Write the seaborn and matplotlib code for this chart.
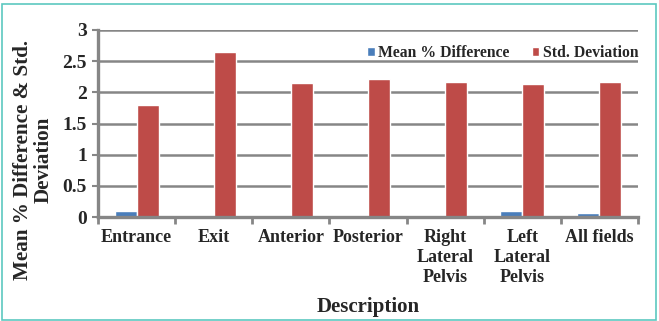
import matplotlib
matplotlib.use("Agg")
import matplotlib.pyplot as plt
import seaborn as sns
import pandas as pd
from matplotlib.patches import Rectangle

categories = ["Entrance", "Exit", "Anterior", "Posterior", "Right\nLateral\nPelvis", "Left\nLateral\nPelvis", "All fields"]
mean_diff = [0.10, 0.02, 0.02, 0.02, 0.005, 0.09, 0.07]
std_dev = [1.80, 2.64, 2.15, 2.21, 2.16, 2.14, 2.17]
series = ["Mean % Difference", "Std. Deviation"]
colors = ["#4a7ebb", "#be4b48"]

df = pd.DataFrame({
    "Description": categories * 2,
    "value": mean_diff + std_dev,
    "series": [series[0]] * len(categories) + [series[1]] * len(categories),
})

sns.set_style("white")
plt.rcParams["font.family"] = ["Liberation Serif", "DejaVu Serif"]
plt.rcParams["font.weight"] = "bold"

fig = plt.figure(figsize=(6.59, 3.21), dpi=100)
ax = fig.add_axes([98 / 659, 104 / 321, 540 / 659, 187 / 321])

sns.barplot(data=df, x="Description", y="value", hue="series", palette=colors,
            width=0.57, ax=ax, saturation=1, legend=True)

ax.set_ylim(0, 3)
ax.set_yticks([0, 0.5, 1, 1.5, 2, 2.5, 3])
ax.set_yticklabels(["0", "0.5", "1", "1.5", "2", "2.5", "3"])
ax.set_xlim(-0.5, len(categories) - 0.5)
ax.yaxis.grid(True, color="#868686", linewidth=1.8)
ax.set_axisbelow(True)
for s in ["top", "right"]:
    ax.spines[s].set_visible(False)
for s in ["left", "bottom"]:
    ax.spines[s].set_color("#868686")
    ax.spines[s].set_linewidth(2.4)

ax.tick_params(axis="y", length=4, width=1.5, color="#868686", left=True, labelsize=14, pad=4)
ax.set_xticks(range(len(categories)))
ax.set_xticklabels(categories, fontsize=13, fontweight="bold", va="top", linespacing=1.22)
ax.tick_params(axis="x", length=0, pad=9)
ax.set_xticks([i - 0.5 for i in range(len(categories) + 1)], minor=True)
ax.tick_params(axis="x", which="minor", length=5, width=2, color="#868686", bottom=True)
for lab in ax.get_yticklabels():
    lab.set_fontweight("bold")

ax.set_xlabel("Description", fontsize=15, fontweight="bold", labelpad=8)
ax.set_ylabel("")
fig.text(33 / 659, 1 - 160 / 321, "Mean % Difference & Std.\nDeviation", rotation=90,
         ha="center", va="center", fontsize=15.2, fontweight="bold", linespacing=1.05,
         multialignment="center")

leg = ax.legend(loc="upper right", bbox_to_anchor=(1.012, 0.955), ncol=2, frameon=False,
                fontsize=11.3, handlelength=0.5, handleheight=0.5, handletextpad=0.2,
                columnspacing=1.4, borderaxespad=0.0)
for t in leg.get_texts():
    t.set_fontweight("bold")

fig.patches.append(Rectangle((0.003, 0.003), 0.992, 0.985, transform=fig.transFigure,
                             fill=False, edgecolor="#5cc8c0", linewidth=1.2))

fig.savefig("out.png", dpi=100)
